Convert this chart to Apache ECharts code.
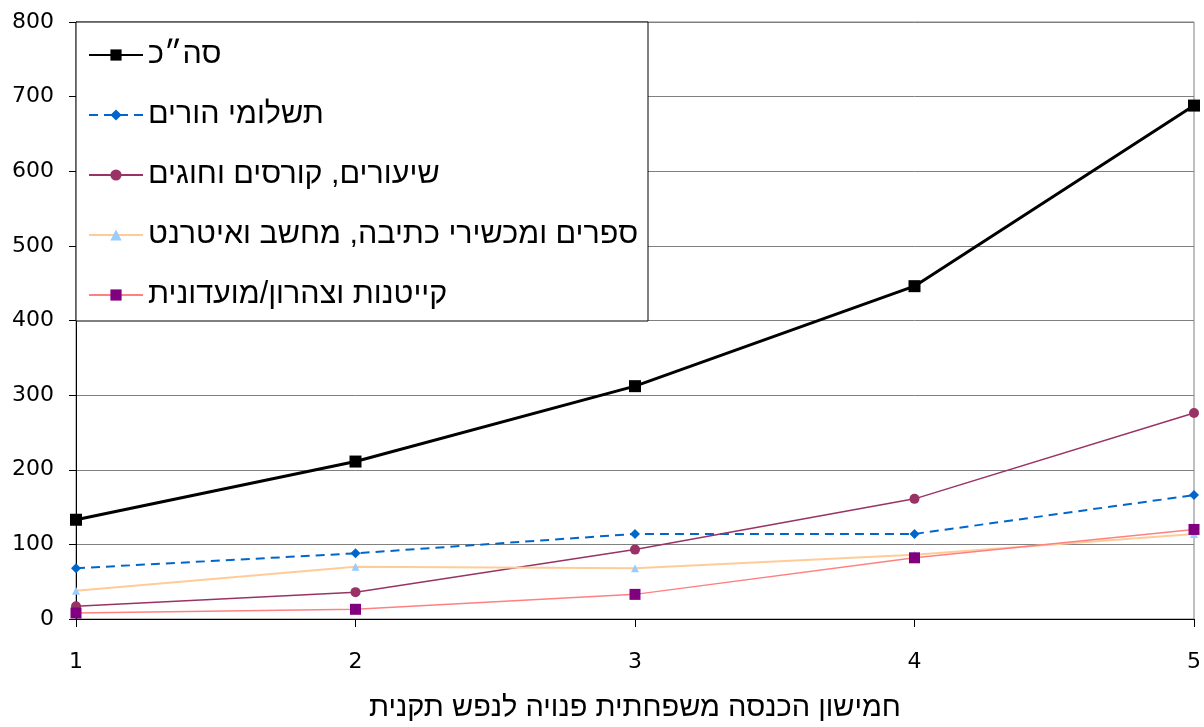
<!DOCTYPE html>
<html>
<head>
<meta charset="utf-8">
<script src="https://cdn.jsdelivr.net/npm/echarts@6/dist/echarts.min.js"></script>
<style>html,body{margin:0;padding:0;background:#fff}#c{width:1204px;height:727px}</style>
</head>
<body>
<div id="c"></div>
<script>
const categories = ['1', '2', '3', '4', '5'];
const seriesNames = ['סה״כ', 'תשלומי הורים', 'שיעורים, קורסים וחוגים', 'ספרים ומכשירי כתיבה, מחשב ואיטרנט', 'קייטנות וצהרון/מועדונית'];
const total = [133, 211, 312, 446, 688];
const parents = [68, 88, 114, 114, 166];
const lessons = [17, 36, 93, 161, 276];
const books = [38, 70, 68, 86, 114];
const camps = [8, 13, 33, 82, 120];
const yTicks = { min: 0, max: 800, interval: 100 };
const xAxisName = 'חמישון הכנסה משפחתית פנויה לנפש תקנית';

const numFont = 'DejaVu Sans';
const hebFont = 'Liberation Sans, DejaVu Sans, sans-serif';

const chart = echarts.init(document.getElementById('c'), null, { renderer: 'canvas' });
chart.setOption({
  animation: false,
  backgroundColor: '#fff',
  grid: { left: 76, right: 10, top: 22, bottom: 107, show: true, borderColor: '#808080', borderWidth: 1, backgroundColor: 'transparent' },
  graphic: [{
    type: 'rect', z: 5,
    shape: { x: 76, y: 22, width: 572, height: 299 },
    style: { fill: '#fff', stroke: '#000', lineWidth: 1 }
  }],
  legend: {
    z: 10,
    orient: 'vertical',
    left: 88, top: 38,
    padding: 0,
    itemWidth: 54, itemHeight: 14, itemGap: 26,
    align: 'left',
    textStyle: { fontFamily: hebFont, fontSize: 30.5, color: '#000', lineHeight: 34 },
    data: seriesNames
  },
  xAxis: {
    type: 'category',
    data: categories,
    boundaryGap: false,
    name: xAxisName,
    nameLocation: 'middle',
    nameGap: 74,
    nameTextStyle: { fontFamily: hebFont, fontSize: 29, color: '#000' },
    axisLine: { lineStyle: { color: '#000', width: 1 } },
    axisTick: { show: true, length: 8, alignWithLabel: true, lineStyle: { color: '#000' } },
    axisLabel: { margin: 32, fontFamily: numFont, fontSize: 22, color: '#000' },
    splitLine: { show: false }
  },
  yAxis: {
    type: 'value',
    min: yTicks.min, max: yTicks.max, interval: yTicks.interval,
    axisLine: { show: true, lineStyle: { color: '#000', width: 1 } },
    axisTick: { show: true, length: 7, lineStyle: { color: '#000' } },
    axisLabel: { margin: 22, fontFamily: numFont, fontSize: 22, color: '#000' },
    splitLine: { show: true, lineStyle: { color: '#808080', width: 1 } }
  },
  series: [
    { name: seriesNames[0], type: 'line', data: total, symbol: 'rect', symbolSize: 12,
      itemStyle: { color: '#000' }, lineStyle: { color: '#000', width: 3 }, z: 6 },
    { name: seriesNames[1], type: 'line', data: parents, symbol: 'diamond', symbolSize: 10,
      itemStyle: { color: '#0066CC' }, lineStyle: { color: '#0066CC', width: 2, type: [9, 6] }, z: 2 },
    { name: seriesNames[2], type: 'line', data: lessons, symbol: 'circle', symbolSize: 10,
      itemStyle: { color: '#993366' }, lineStyle: { color: '#993366', width: 1.5 }, z: 2 },
    { name: seriesNames[3], type: 'line', data: books, symbol: 'triangle', symbolSize: 8,
      itemStyle: { color: '#99CCFF' }, lineStyle: { color: '#FFCC99', width: 2 }, z: 2 },
    { name: seriesNames[4], type: 'line', data: camps, symbol: 'rect', symbolSize: 11,
      itemStyle: { color: '#800080' }, lineStyle: { color: '#FF8080', width: 1.5 }, z: 3 }
  ]
});
</script>
</body>
</html>
